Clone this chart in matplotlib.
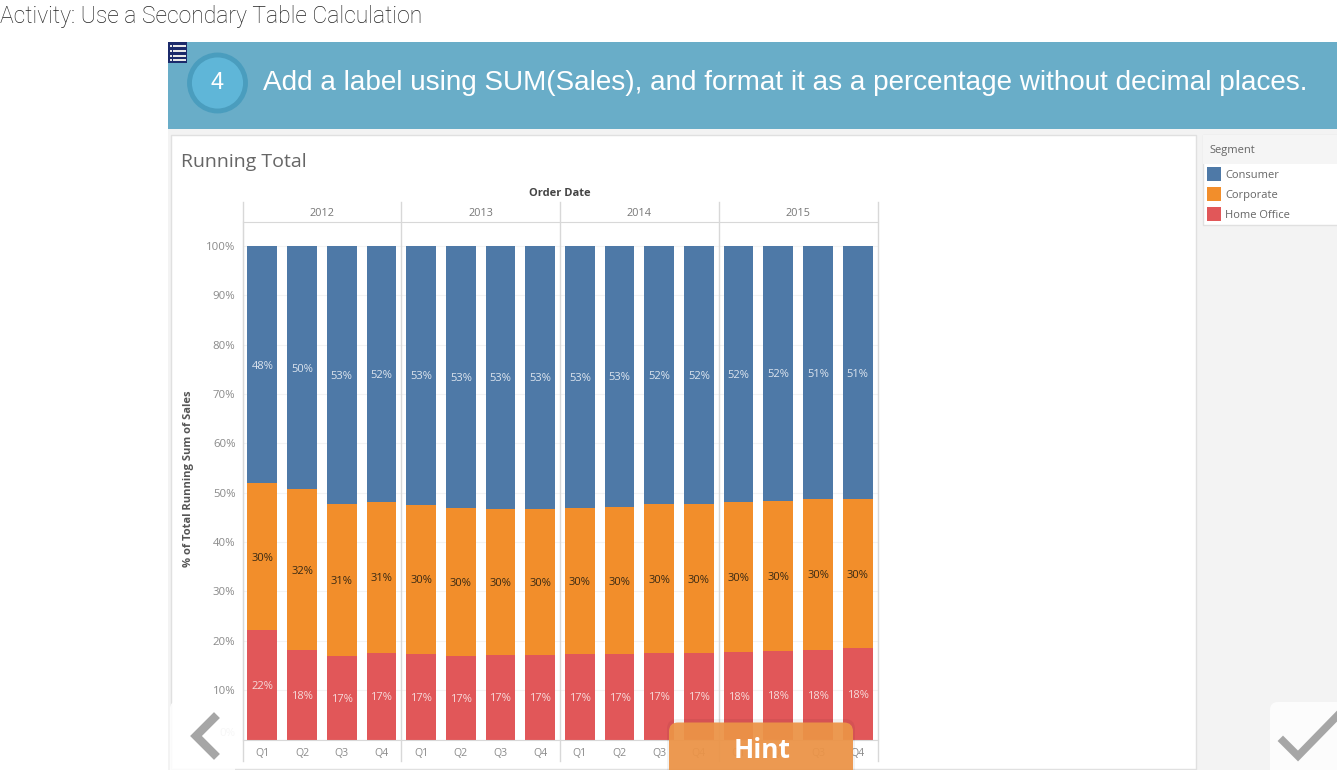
import numpy as np
import matplotlib
matplotlib.use("Agg")
import matplotlib.pyplot as plt
from matplotlib.patches import Rectangle, Circle, FancyBboxPatch
from matplotlib.transforms import ScaledTranslation

W, H = 1337, 770

# ── data ──────────────────────────────────────────────────────────────────────
years    = ["2012", "2013", "2014", "2015"]
quarters = ["Q1", "Q2", "Q3", "Q4"] * 4
segments = ["Consumer", "Corporate", "Home Office"]

home_office = [22.2, 18.2, 16.9, 17.6, 17.4, 16.9, 17.1, 17.1,
               17.3, 17.3, 17.5, 17.5, 17.7, 17.9, 18.2, 18.5]
corporate   = [29.8, 32.5, 30.9, 30.6, 30.2, 30.1, 29.7, 29.7,
               29.7, 29.9, 30.3, 30.3, 30.5, 30.5, 30.6, 30.3]
consumer    = [48.0, 49.3, 52.2, 51.8, 52.4, 53.0, 53.2, 53.2,
               53.0, 52.8, 52.2, 52.2, 51.8, 51.6, 51.2, 51.2]

consumer_lab  = [48, 50, 53, 52, 53, 53, 53, 53, 53, 53, 52, 52, 52, 52, 51, 51]
corporate_lab = [30, 32, 31, 31, 30, 30, 30, 30, 30, 30, 30, 30, 30, 30, 30, 30]
home_lab      = [22, 18, 17, 17, 17, 17, 17, 17, 17, 17, 17, 17, 18, 18, 18, 18]

BLUE, ORANGE, RED = "#4E79A7", "#F28E2B", "#E15759"
CHART_FONT = ["Open Sans", "DejaVu Sans"]

fig = plt.figure(figsize=(W / 100, H / 100), dpi=100, facecolor="white")


def px_axes(zorder):
    a = fig.add_axes([0, 0, 1, 1], zorder=zorder)
    a.set_xlim(0, W)
    a.set_ylim(H, 0)
    a.axis("off")
    return a


# ── page chrome behind the chart ──────────────────────────────────────────────
bg = px_axes(0)
bg.text(0, 16, "Activity: Use a Secondary Table Calculation", fontsize=16.5,
        family=["Roboto", "DejaVu Sans"], color="#222222", va="center", fontweight="light")
bg.add_patch(Rectangle((168, 42), W - 168, 87, color="#69ADC8", lw=0))
bg.add_patch(Circle((217.5, 83), 28, fc="#5FB6D8", ec="#4A9DBE", lw=3.5))
bg.text(217.5, 83, "4", fontsize=17, color="white", ha="center", va="center",
        family="Liberation Sans")
bg.text(263, 83, "Add a label using SUM(Sales), and format it as a percentage without decimal places.",
        fontsize=20.09, color="white", va="center", family="Liberation Sans")

# small list icon in the corner of the banner
bg.add_patch(Rectangle((168, 42), 19, 21, color="#1B2A6B", lw=0))
for yy in [45.5, 50.5, 55.5, 60]:
    bg.add_patch(Rectangle((173, yy - 1), 13, 2.2, color="#E8E8E8", lw=0))
    bg.add_patch(Rectangle((169.5, yy - 1), 2, 2.2, color="#E8E8E8", lw=0))

bg.add_patch(Rectangle((168, 129), W - 168, H - 129, color="#F3F3F3", lw=0))
bg.add_patch(Rectangle((170.5, 134.5), 1025, 634, fc="white", ec="#E0E0E0", lw=1))
bg.text(181, 162, "Running Total", fontsize=14, color="#666666", va="center",
        family=CHART_FONT)

# legend panel
bg.add_patch(Rectangle((1202.5, 134.5), 140, 90, fc="white", ec="#E0E0E0", lw=1))
bg.add_patch(Rectangle((1203, 135), 140, 29, color="#F5F5F5", lw=0))
bg.text(1209, 151, "Segment", fontsize=8, color="#666666", va="center", family=CHART_FONT)
for seg, col, yy in zip(segments, [BLUE, ORANGE, RED], [174, 194, 214]):
    bg.add_patch(Rectangle((1206.5, yy - 7), 14, 14, color=col, lw=0))
    bg.text(1225, yy + 1.5, seg, fontsize=8, color="#666666", va="center", family=CHART_FONT)

# ── chart ─────────────────────────────────────────────────────────────────────
x0, x1, y_top, y_zero, y_full = 242.5, 877.5, 222, 739.5, 246
ax = fig.add_axes([x0 / W, 1 - y_zero / H, (x1 - x0) / W, (y_zero - y_top) / H], zorder=1)
ax.patch.set_alpha(0)

x = np.arange(16)
home = np.array(home_office)
corp = np.array(corporate)
cons = np.array(consumer)

bar_w = 0.75
ax.bar(x, home, width=bar_w, color=RED, zorder=2)
ax.bar(x, corp, width=bar_w, bottom=home, color=ORANGE, zorder=2)
ax.bar(x, cons, width=bar_w, bottom=home + corp, color=BLUE, zorder=2)


def bar_label(xpos, ypos, val, col):
    ax.annotate(f"{val}%", xy=(xpos, ypos), xytext=(0, -1.2), textcoords="offset points",
                ha="center", va="center", fontsize=8, color=col, family=CHART_FONT, zorder=3)


for i in x:
    bar_label(i, home[i] / 2, home_lab[i], "#F6DADA")
    bar_label(i, home[i] + corp[i] / 2, corporate_lab[i], "#3A2A14")
    bar_label(i, home[i] + corp[i] + cons[i] / 2, consumer_lab[i], "#DCE4EE")

ax.set_xlim(-0.5, 15.5)
ax.set_ylim(0, 100 * (y_zero - y_top) / (y_zero - y_full))

ax.set_yticks(np.arange(0, 101, 10))
ax.set_yticklabels([f"{v}%" for v in range(0, 101, 10)], fontsize=8.2, color="#8A8A8A",
                   family=CHART_FONT)
ax.set_xticks(x)
ax.set_xticklabels(quarters, fontsize=7.6, color="#8A8A8A", family=CHART_FONT)
ax.tick_params(axis="y", length=0, pad=5)
ax.tick_params(axis="x", length=0, pad=6)
ax.grid(axis="y", color="#F3F3F3", lw=0.8, zorder=0)
ax.set_axisbelow(True)

# the 0% label sits a little above the baseline, tableau keeps it inside the pane
zero_lab = ax.get_yticklabels()[0]
zero_lab.set_transform(zero_lab.get_transform() + ScaledTranslation(0, 8 / 100, fig.dpi_scale_trans))
zero_lab.set_color("#C8C8C8")

for side in ["top", "left", "bottom"]:
    ax.spines[side].set_color("#D8D8D8")
ax.spines["right"].set_visible(False)

# year panel separators run through the header and the quarter row
for sep in [-0.5, 3.5, 7.5, 11.5, 15.5]:
    ax.axvline(sep, ymin=-0.0406, ymax=1.0387, color="#D8D8D8", lw=1, clip_on=False, zorder=1)

for i, yr in enumerate(years):
    ax.annotate(yr, xy=(1.5 + 4 * i, 1), xycoords=ax.get_xaxis_transform(),
                xytext=(0, 6), textcoords="offset points", ha="center", va="center",
                fontsize=7.8, color="#777777", family=CHART_FONT)
ax.annotate("Order Date", xy=(0.5, 1), xycoords="axes fraction", xytext=(0, 20.8),
            textcoords="offset points", ha="center", va="center", fontsize=8,
            fontweight="bold", color="#444444", family=CHART_FONT)

# ── overlay controls on top of the chart ──────────────────────────────────────
top = px_axes(2)
top.text(189, 479, "% of Total Running Sum of Sales", fontsize=8, fontweight="bold",
         color="#555555", rotation=90, ha="center", va="center", family=CHART_FONT)

top.add_patch(FancyBboxPatch((170, 701), 65, 80, boxstyle="round,pad=0,rounding_size=8",
                             fc="white", ec="none", alpha=0.85))
top.plot([214, 196, 214], [718, 736, 754], color="#A6A6A6", lw=6, solid_joinstyle="miter")

# soft shadow under the hint button
top.add_patch(FancyBboxPatch((667, 719), 188, 60, boxstyle="round,pad=0,rounding_size=10",
                             fc="#000000", ec="none", alpha=0.05))
top.add_patch(FancyBboxPatch((669, 722.5), 184, 60, boxstyle="round,pad=0,rounding_size=9",
                             fc="#EC9447", ec="none", alpha=0.94))
top.text(762, 751, "Hint", fontsize=19, fontweight="bold", color="white",
         ha="center", va="center", family=["Open Sans", "DejaVu Sans"])

top.add_patch(FancyBboxPatch((1270, 702), 80, 80, boxstyle="round,pad=0,rounding_size=8",
                             fc="#FCFCFC", ec="none"))
top.plot([1283, 1298, 1340], [741, 756, 713], color="#A6A6A6", lw=5.5, solid_joinstyle="miter")

top.set_xlim(0, W)
top.set_ylim(H, 0)

fig.savefig("out.png", dpi=100)
plt.close()
